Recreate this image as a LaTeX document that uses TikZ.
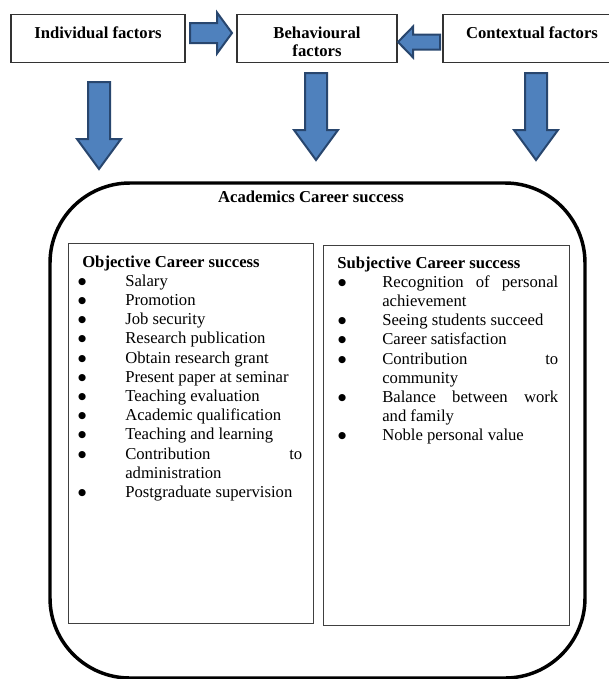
\documentclass[tikz,border=0pt]{standalone}
\usepackage{fontspec}
\setmainfont{Liberation Serif}
\newfontfamily\dotfont{DejaVu Sans}
\usetikzlibrary{positioning}
\definecolor{steel}{RGB}{79,129,189}
\definecolor{deepsea}{RGB}{40,70,110}
\hyphenpenalty=10000
\exhyphenpenalty=10000
\newcommand{\bigdot}{\raisebox{1.5pt}{\dotfont\fontsize{7}{7}\selectfont ●}}
\newenvironment{successlist}[2]{%
  \list{\bigdot}{\setlength{\leftmargin}{#1}\setlength{\labelsep}{#2}%
    \setlength{\itemsep}{0pt}\setlength{\parsep}{0pt}%
    \setlength{\topsep}{0pt}\setlength{\partopsep}{0pt}}}{\endlist}
\tikzset{
  factor/.style={draw=black!80,line width=0.9pt,anchor=north,minimum width=#1,
    inner ysep=0pt,text height=18pt,text depth=18pt,align=center,
    font=\fontsize{12.5}{13.5}\selectfont\bfseries},
  panel/.style={draw=black!75,line width=1.1pt,anchor=north west,inner sep=0pt},
  items/.style={anchor=base west,inner sep=0pt,text width=#1,align=justify,
    font=\fontsize{12.5}{14.4}\selectfont},
  career frame/.style={draw=black,line width=2.6pt,rounded corners=60pt,inner sep=0pt},
  heading/.style={anchor=base,inner sep=0pt,font=\fontsize{12.5}{14.4}\selectfont\bfseries},
  % block arrows
  pics/down arrow/.style={code={
    \filldraw[fill=steel,draw=deepsea,line width=1.5pt,line join=miter]
      (-11,0) -- (11,0) -- (11,57) -- (22,57) -- (0,87) -- (-22,57) -- (-11,57) -- cycle;
  }},
  pics/side arrow/.style={code={
    \filldraw[fill=steel,draw=deepsea,line width=1.5pt,line join=miter]
      (0,-10) -- (27,-10) -- (27,-20.5) -- (42,0) -- (27,20.5) -- (27,10) -- (0,10) -- cycle;
  }},
}

\begin{document}
\begin{tikzpicture}[x=0.75pt,y=-0.75pt]
  \useasboundingbox (0,0) rectangle (608,679);
  % factors
  \node[factor=130.5pt] (ind) at (98,14) {Individual factors};
  \node[factor=120pt,text height=31.5pt,text depth=4.5pt] (beh) at (317,14) {Behavioural\\factors};
  \node[factor=133.5pt] (ctx) at (532,14) {Contextual factors};
  \pic at (190,33) {side arrow};
  \pic[xscale=-1,yscale=0.75] at (440,42) {side arrow};
  \foreach \x/\y in {99/82,316/73,536/73}
    \pic at (\x,\y) {down arrow};
  % career success
  \node[career frame,minimum width=401.25pt,minimum height=371.25pt] (career) at (317.5,430.5) {};
  \node[heading] (title) at (311,202) {Academics Career success};
  \node[panel,minimum width=183.75pt,minimum height=285pt] (objbox) at (68,243) {};
  \node[panel,minimum width=184.5pt,minimum height=285pt] (subjbox) at (323,245) {};
  \node[items=165pt] (objlist) at (82,267) {\textbf{Objective Career success}
    \begin{successlist}{32.25pt}{29.3pt}
      \item Salary
      \item Promotion
      \item Job security
      \item Research publication
      \item Obtain research grant
      \item Present paper at seminar
      \item Teaching evaluation
      \item Academic qualification
      \item Teaching and learning
      \item Contribution to\linebreak administration
      \item Postgraduate supervision
    \end{successlist}};
  \node[items=165.75pt] (subjlist) at (337,268) {\textbf{Subjective Career success}
    \begin{successlist}{33.75pt}{27pt}
      \item Recognition of personal\linebreak achievement
      \item Seeing students succeed
      \item Career satisfaction
      \item Contribution to\linebreak community
      \item Balance between work\linebreak and family
      \item Noble personal value
    \end{successlist}};
\end{tikzpicture}
\end{document}
